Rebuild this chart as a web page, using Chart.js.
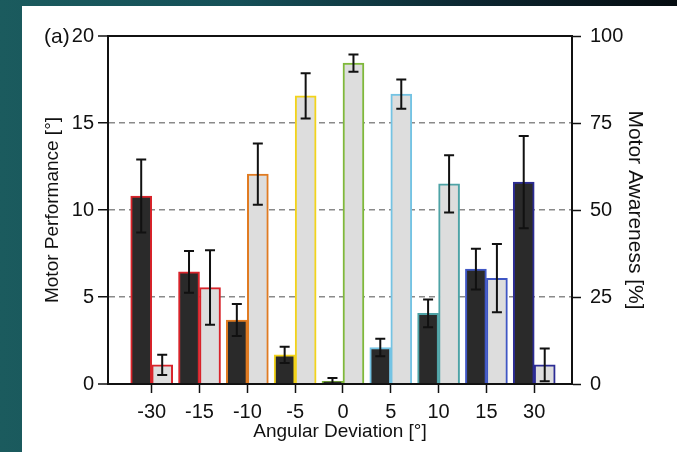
<!DOCTYPE html>
<html>
<head>
<meta charset="utf-8">
<script src="https://cdn.jsdelivr.net/npm/chart.js@4"></script>
<style>
  body {
    margin: 0;
    width: 677px;
    height: 452px;
    overflow: hidden;
    background: linear-gradient(to right, #1b5b5e 0%, #155058 35%, #0c2630 70%, #050c10 100%);
  }
  #panel {
    position: absolute;
    left: 22px;
    top: 6px;
    width: 655px;
    height: 446px;
    background: #ffffff;
  }
  #tag {
    position: absolute;
    left: 22px;
    top: 18px;
    font: 21px "Liberation Sans", Arial, sans-serif;
    line-height: 24px;
    color: #111;
  }
</style>
</head>
<body>
<div id="panel">
  <canvas id="chart" width="655" height="446"></canvas>
  <div id="tag">(a)</div>
</div>
<script>
const angles = ['-30', '-15', '-10', '-5', '0', '5', '10', '15', '30'];
const performance = [10.8, 6.45, 3.68, 1.67, 0.15, 2.1, 4.06, 6.6, 11.6];
const performanceErr = [2.1, 1.2, 0.92, 0.47, 0.2, 0.5, 0.8, 1.17, 2.65];
const awareness = [5.5, 27.7, 60.3, 82.8, 92.2, 83.3, 57.5, 30.4, 5.5];
const awarenessErr = [2.9, 10.7, 8.8, 6.5, 2.5, 4.2, 8.2, 9.8, 4.7];
const edgeColors = ['#d8232a', '#d8232a', '#e07b22', '#f2d31b', '#7fb83a', '#74c3e3', '#4ea3a6', '#3f56c4', '#2c2c95'];

Chart.defaults.font.family = '"Liberation Sans", Arial, sans-serif';
Chart.defaults.font.size = 19;
Chart.defaults.color = '#111';

// draws the error whiskers on top of every bar
const errorBars = {
    id: 'errorBars',
    afterDatasetsDraw(chart) {
        const ctx = chart.ctx;
        ctx.save();
        ctx.strokeStyle = '#111';
        ctx.lineWidth = 2;
        chart.data.datasets.forEach((ds, i) => {
            const meta = chart.getDatasetMeta(i);
            const yScale = chart.scales[ds.yAxisID];
            meta.data.forEach((bar, j) => {
                const v = ds.data[j].y;
                const e = ds.errors[j];
                const top = yScale.getPixelForValue(v + e);
                const bot = Math.min(yScale.getPixelForValue(v - e), chart.chartArea.bottom);
                ctx.beginPath();
                ctx.moveTo(bar.x, top);
                ctx.lineTo(bar.x, bot);
                ctx.moveTo(bar.x - 5, top);
                ctx.lineTo(bar.x + 5, top);
                ctx.moveTo(bar.x - 5, bot);
                ctx.lineTo(bar.x + 5, bot);
                ctx.stroke();
            });
        });
        ctx.restore();
    }
};

const ctx = document.getElementById('chart').getContext('2d');
new Chart(ctx, {
    type: 'bar',
    data: {
        datasets: [{
            label: 'Motor Performance',
            data: performance.map((v, i) => ({ x: i, y: v })),
            errors: performanceErr,
            yAxisID: 'y',
            backgroundColor: '#2a2a2a',
            borderColor: edgeColors,
            borderWidth: 2,
            borderSkipped: 'start',
            barThickness: 21
        }, {
            label: 'Motor Awareness',
            data: awareness.map((v, i) => ({ x: i, y: v })),
            errors: awarenessErr,
            yAxisID: 'y1',
            backgroundColor: '#dddddd',
            borderColor: edgeColors,
            borderWidth: 2,
            borderSkipped: 'start',
            barThickness: 21
        }]
    },
    options: {
        responsive: false,
        animation: false,
        layout: {
            padding: { top: 30, left: 0, right: 0, bottom: 0 }
        },
        plugins: {
            legend: { display: false },
            tooltip: { enabled: false }
        },
        scales: {
            x: {
                type: 'linear',
                min: -0.914,
                max: 8.79,
                offset: false,
                afterFit: (s) => { s.height = 68; },
                grid: {
                    offset: false,
                    drawOnChartArea: false,
                    tickLength: 9,
                    tickColor: '#111',
                    tickWidth: 1.5
                },
                border: { color: '#111', width: 2, z: 1 },
                ticks: {
                    stepSize: 1,
                    includeBounds: false,
                    padding: 7,
                    maxRotation: 0,
                    autoSkip: false,
                    font: { size: 20 },
                    callback: (v) => angles[v]
                },
                title: {
                    display: true,
                    text: 'Angular Deviation [°]',
                    padding: { top: 0, bottom: 9 }
                }
            },
            y: {
                position: 'left',
                min: 0,
                max: 20,
                afterFit: (s) => { s.width = 86; },
                grid: {
                    color: (c) => (c.tick && c.tick.value % 20 !== 0) ? '#8a8a8a' : '#111',
                    lineWidth: (c) => (c.tick && c.tick.value % 20 !== 0) ? 1.5 : 2,
                    tickLength: 10,
                    tickColor: '#111',
                    tickWidth: 1.5
                },
                border: {
                    color: '#111',
                    width: 2,
                    dash: (c) => (c.tick && c.tick.value % 20 !== 0) ? [6, 4] : []
                },
                ticks: { stepSize: 5, padding: 4, font: { size: 20 } },
                title: {
                    display: true,
                    text: 'Motor Performance [°]',
                    padding: { top: 19, bottom: 0 }
                }
            },
            y1: {
                position: 'right',
                min: 0,
                max: 100,
                afterFit: (s) => { s.width = 105; },
                grid: {
                    drawOnChartArea: false,
                    tickLength: 9,
                    tickColor: '#111',
                    tickWidth: 1.5
                },
                border: { color: '#111', width: 2 },
                ticks: { stepSize: 25, padding: 9, font: { size: 20 } },
                title: {
                    display: true,
                    text: 'Motor Awareness [%]',
                    font: { size: 21 },
                    padding: { top: 30, bottom: 0 }
                }
            }
        }
    },
    plugins: [errorBars]
});
</script>
</body>
</html>
